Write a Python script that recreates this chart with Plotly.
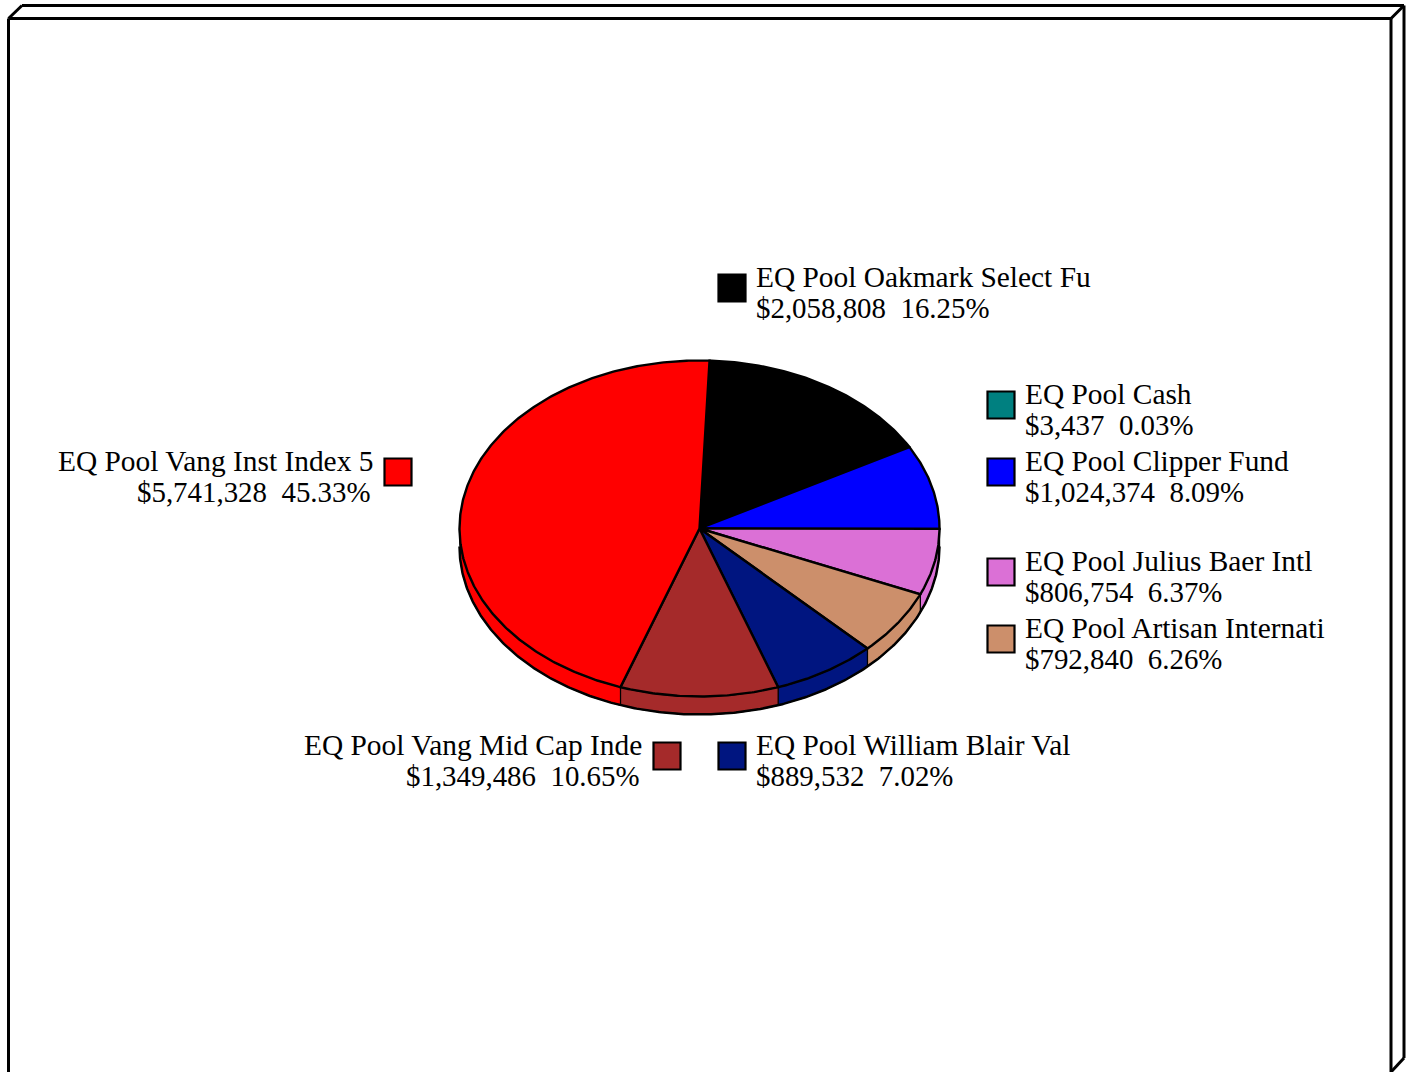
import numpy as np
import plotly.graph_objects as go

names = ["EQ Pool Oakmark Select Fu", "EQ Pool Cash", "EQ Pool Clipper Fund",
         "EQ Pool Julius Baer Intl", "EQ Pool Artisan Internati",
         "EQ Pool William Blair Val", "EQ Pool Vang Mid Cap Inde",
         "EQ Pool Vang Inst Index 5"]
values = [2058808, 3437, 1024374, 806754, 792840, 889532, 1349486, 5741328]
colors = ["#000000", "#008080", "#0000FF", "#DB70D6", "#CC8F6B", "#001580", "#A52A2A", "#FF0000"]
# legend placement: swatch centre (x, y), side of the text
swatch_x = [732, 1001, 1001, 1001, 1001, 732, 667, 398]
swatch_y = [288, 405, 472, 572, 639, 756, 756, 472]
text_side = ["right", "right", "right", "right", "right", "right", "left", "left"]

CX, CY, RX, RY, DEPTH = 699.5, 528.5, 240, 168, 18
START_DEG = 2.4
total = sum(values)
W, H = 1411, 1072
FONT = "Liberation Serif"
FS_NAME = 29.4
FS_VALUE = 28.9

fig = go.Figure()


def rim(a0, a1, shift=0.0):
    n = max(2, int(abs(a1 - a0) * 2) + 2)
    t = np.radians(np.linspace(a0, a1, n))
    return CX + RX * np.sin(t), CY - RY * np.cos(t) + shift


def poly(x, y, fill, lw):
    fig.add_trace(go.Scatter(x=list(x), y=list(y), mode="lines", fill="toself",
                             fillcolor=fill, line=dict(color="#000000", width=lw),
                             hoverinfo="skip", showlegend=False))


# slice angles, taken from the values
edges = START_DEG + np.concatenate([[0], np.cumsum(values)]) / total * 360

# side wall (only the front half of the rim can be seen)
for c, a0, a1 in zip(colors, edges[:-1], edges[1:]):
    for lo, hi in ((a0, a1), (a0 - 360, a1 - 360)):
        b0, b1 = max(lo, 90), min(hi, 270)
        if b1 > b0:
            xt, yt = rim(b0, b1)
            xb, yb = rim(b1, b0, DEPTH)
            poly(np.r_[xt, xb, xt[0]], np.r_[yt, yb, yt[0]], c, 1.2)

# outer bottom rim, heavier
xb, yb = rim(90, 270, DEPTH)
fig.add_trace(go.Scatter(x=xb, y=yb, mode="lines", line=dict(color="#000000", width=2.5),
                         hoverinfo="skip", showlegend=False))

# top faces
for c, a0, a1 in zip(colors, edges[:-1], edges[1:]):
    xt, yt = rim(a0, a1)
    poly(np.r_[CX, xt, CX], np.r_[CY, yt, CY], c, 2.4)

# legend swatches
fig.add_trace(go.Scatter(x=swatch_x, y=swatch_y, mode="markers",
                         marker=dict(symbol="square", size=27, color=colors,
                                     line=dict(color="#000000", width=2.2)),
                         hoverinfo="skip", showlegend=False))

# legend text
for name, v, sx, sy, side in zip(names, values, swatch_x, swatch_y, text_side):
    line2 = f"${v:,}\u00a0\u00a0{v / total:.2%}"
    if side == "right":
        x1 = x2 = sx + 24
        anchor = "left"
    else:
        x1, x2 = sx - 25, sx - 27
        anchor = "right"
    for txt, x, y, fs in ((name, x1, sy - 11, FS_NAME), (line2, x2, sy + 19.8, FS_VALUE)):
        fig.add_annotation(x=x, y=y, text=txt, showarrow=False, xanchor=anchor,
                           yanchor="middle", xshift=0, borderpad=0, borderwidth=0,
                           font=dict(family=FONT, size=fs, color="#000000"))

# 3-D page frame
frame = [
    ((8.5, 18.5), (1391, 18.5)),
    ((8.5, 18.5), (8.5, 1080)),
    ((1391, 18.5), (1391, 1080)),
    ((8.5, 18.5), (22, 5.5)),
    ((22, 5.5), (1404, 5.5)),
    ((1404, 5.5), (1391, 18.5)),
    ((1404, 5.5), (1404, 1058)),
    ((1404, 1058), (1391, 1072)),
]
for (x0, y0), (x1, y1) in frame:
    fig.add_shape(type="line", x0=x0, y0=y0, x1=x1, y1=y1, xref="x", yref="y",
                  line=dict(color="#000000", width=3))

fig.update_layout(
    width=W, height=H, margin=dict(l=0, r=0, t=0, b=0),
    paper_bgcolor="#FFFFFF", plot_bgcolor="#FFFFFF", showlegend=False,
    hovermode=False,
    xaxis=dict(range=[0, W], visible=False, fixedrange=True),
    yaxis=dict(range=[H, 0], visible=False, fixedrange=True),
)
fig.write_html("out.html", config={"displayModeBar": False},
               post_script="document.body.style.margin='0';document.body.style.overflow='hidden';")
